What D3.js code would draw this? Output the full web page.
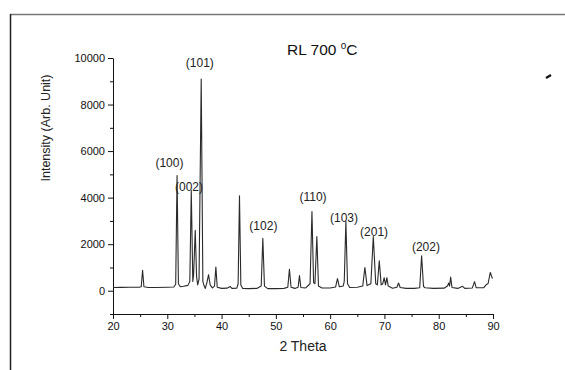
<!DOCTYPE html>
<html>
<head>
<meta charset="utf-8">
<script src="https://cdn.jsdelivr.net/npm/d3@7"></script>
<style>
  body { margin: 0; background: #fff; }
  svg { font-family: "Liberation Sans", Arial, sans-serif; }
</style>
</head>
<body>
<svg id="chart" width="565" height="370"></svg>
<script>
// Pattern data: [2 theta, intensity]
var pattern = [
  [20.0, 140], [21.5, 145], [23.0, 150], [24.8, 150], [25.2, 170], [25.45, 880], [25.7, 170],
  [26.5, 140], [28.0, 140], [30.0, 150], [31.2, 160], [31.55, 280], [31.8, 4950], [32.05, 300],
  [32.4, 170], [33.0, 190], [33.8, 230], [34.15, 400], [34.42, 4300], [34.7, 400], [34.85, 700],
  [35.15, 2600], [35.4, 600], [35.6, 250], [35.85, 500], [36.25, 9100], [36.55, 400], [36.8, 200],
  [37.0, 100], [37.3, 350], [37.6, 690], [37.9, 250], [38.3, 120], [38.7, 200], [38.95, 1020],
  [39.2, 150], [40.0, 100], [41.0, 110], [41.6, 180], [41.9, 100], [42.8, 110], [43.05, 300],
  [43.3, 4080], [43.55, 250], [43.9, 100], [45.0, 90], [46.5, 100], [47.3, 200], [47.6, 2250],
  [47.9, 200], [48.5, 90], [50.0, 90], [51.5, 100], [52.2, 150], [52.5, 920], [52.8, 150],
  [53.5, 100], [54.1, 150], [54.35, 650], [54.6, 140], [55.5, 120], [56.3, 300], [56.65, 3400],
  [56.95, 350], [57.2, 300], [57.55, 2330], [57.85, 200], [58.5, 120], [60.0, 120], [61.0, 160],
  [61.35, 520], [61.7, 170], [62.4, 200], [62.6, 400], [62.9, 2980], [63.2, 300], [63.6, 140],
  [65.0, 150], [66.0, 200], [66.4, 1000], [66.8, 220], [67.5, 300], [67.95, 2330], [68.4, 300],
  [68.7, 250], [69.05, 1290], [69.4, 250], [69.7, 300], [69.95, 560], [70.2, 250], [70.45, 560],
  [70.7, 200], [71.5, 110], [72.3, 150], [72.6, 330], [72.9, 140], [74.0, 100], [75.5, 100],
  [76.5, 130], [76.85, 1500], [77.2, 180], [77.5, 130], [79.0, 100], [81.0, 110], [81.6, 200],
  [81.85, 330], [82.0, 200], [82.2, 590], [82.45, 140], [83.5, 100], [84.4, 190], [84.8, 100],
  [86.2, 120], [86.6, 390], [86.9, 130], [88.3, 130], [88.8, 270], [89.1, 310], [89.5, 785],
  [89.9, 520]
];

// Miller index labels: [text, 2 theta, intensity at label baseline]
var peakLabels = [
  ["(100)", 30.4, 5320],
  ["(002)", 34.0, 4290],
  ["(101)", 36.0, 9620],
  ["(102)", 47.7, 2620],
  ["(110)", 56.85, 3860],
  ["(103)", 62.55, 2960],
  ["(201)", 68.1, 2360],
  ["(202)", 77.65, 1720]
];

var xMajorTicks = [20, 30, 40, 50, 60, 70, 80, 90];
var xMinorTicks = [25, 35, 45, 55, 65, 75, 85];
var yMajorTicks = [0, 2000, 4000, 6000, 8000, 10000];
var yMinorTicks = [-1000, 1000, 3000, 5000, 7000, 9000];

var svg = d3.select("#chart");

// Outer frame (top and left edges only)
svg.append("line")
  .attr("x1", 10).attr("x2", 565).attr("y1", 14.5).attr("y2", 14.5)
  .attr("stroke", "#777").attr("stroke-width", 1.5);
svg.append("line")
  .attr("x1", 10.5).attr("x2", 10.5).attr("y1", 14).attr("y2", 370)
  .attr("stroke", "#222").attr("stroke-width", 1.5);

var x = d3.scaleLinear().domain([20, 90]).range([113, 493]);
var y = d3.scaleLinear().domain([-1000, 10000]).range([314, 58]);

// x axis
var gx = svg.append("g").attr("transform", `translate(0, ${y(-1000)})`);
gx.call(d3.axisBottom(x).tickValues(xMajorTicks).tickSize(5).tickSizeOuter(0).tickPadding(3)
  .tickFormat(d3.format("d")));
gx.append("g").call(d3.axisBottom(x).tickValues(xMinorTicks).tickSize(3).tickFormat(""))
  .select(".domain").remove();

// y axis
var gy = svg.append("g").attr("transform", `translate(${x(20)}, 0)`);
gy.call(d3.axisLeft(y).tickValues(yMajorTicks).tickSize(5).tickSizeOuter(0).tickPadding(3)
  .tickFormat(d3.format("d")));
gy.append("g").call(d3.axisLeft(y).tickValues(yMinorTicks).tickSize(3).tickFormat(""))
  .select(".domain").remove();

svg.selectAll(".tick text").attr("font-size", 11).attr("fill", "#111")
  .attr("font-family", "Liberation Sans, Arial, sans-serif");
svg.selectAll(".domain, .tick line").attr("stroke", "#111");

// Axis titles
svg.append("text")
  .attr("x", 303).attr("y", 351)
  .attr("text-anchor", "middle")
  .attr("font-size", 14)
  .attr("fill", "#222")
  .text("2 Theta");

svg.append("text")
  .attr("transform", "translate(50, 128) rotate(-90)")
  .attr("text-anchor", "middle")
  .attr("font-size", 12.5)
  .attr("fill", "#222")
  .text("Intensity (Arb. Unit)");

// Title
var title = svg.append("text")
  .attr("x", 287).attr("y", 55)
  .attr("font-size", 15.5)
  .attr("fill", "#111");
title.append("tspan").text("RL 700 ");
title.append("tspan").attr("font-size", 10).attr("dy", -6).text("o");
title.append("tspan").attr("dy", 6).text("C");

// Small stray mark at top right
svg.append("path")
  .attr("d", "M546,78 L551,75")
  .attr("stroke", "#111").attr("stroke-width", 2.2);

// Diffraction pattern
var line = d3.line()
  .x(d => x(d[0]))
  .y(d => y(d[1]));

svg.append("path")
  .datum(pattern)
  .attr("fill", "none")
  .attr("stroke", "#2a2a2a")
  .attr("stroke-width", 1.1)
  .attr("stroke-linejoin", "round")
  .attr("d", line);

// Peak labels
svg.selectAll(".peak-label")
  .data(peakLabels)
  .enter().append("text")
  .attr("class", "peak-label")
  .attr("x", d => x(d[1]))
  .attr("y", d => y(d[2]))
  .attr("text-anchor", "middle")
  .attr("font-size", 12)
  .attr("fill", "#222")
  .text(d => d[0]);
</script>
</body>
</html>
